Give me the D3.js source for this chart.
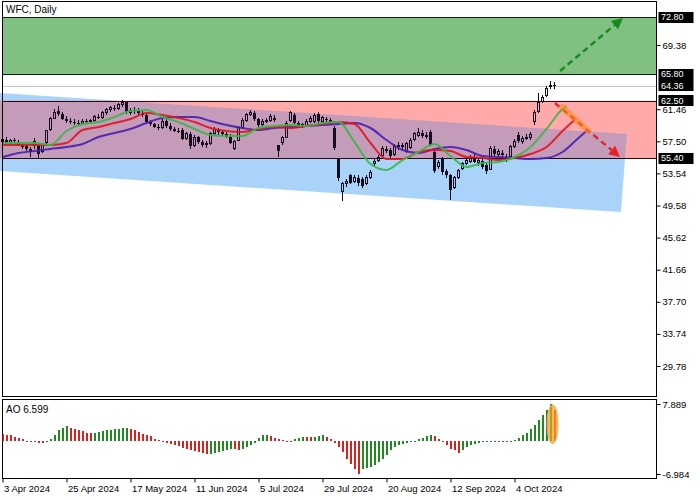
<!DOCTYPE html>
<html>
<head>
<meta charset="utf-8">
<script src="https://cdn.jsdelivr.net/npm/d3@7/dist/d3.min.js"></script>
<style>
html,body{margin:0;padding:0;background:#fff;}
svg{display:block;font-family:"Liberation Sans",Arial,sans-serif;}
</style>
</head>
<body>
<svg id="chart" width="700" height="500"></svg>
<script>
// ---------------- DATA ----------------
const opens  = [57.5,57.7,57.4,57.6,57.4,57.0,56.9,56.5,57.0,57.0,56.2,57.3,58.9,60.3,61.2,60.9,60.3,60.0,59.9,59.8,
                59.7,60.0,59.9,60.1,60.5,60.4,61.0,61.4,61.6,61.5,62.0,62.3,61.1,61.3,61.2,61.0,60.7,59.9,59.6,59.3,
                59.2,60.0,59.4,59.0,58.8,58.9,57.8,58.4,57.0,58.0,57.4,57.1,57.2,58.5,58.9,58.6,58.4,58.2,56.6,57.6,
                59.2,60.1,60.8,61.0,60.2,59.6,60.0,60.1,60.4,57.0,57.3,58.0,60.1,60.7,59.8,59.3,59.5,60.0,59.9,60.9,
                60.0,60.3,60.1,59.1,55.4,51.3,52.3,53.3,52.6,53.0,52.9,52.3,53.0,54.7,55.1,55.8,56.6,56.4,55.9,56.8,
                57.0,56.2,56.7,57.7,58.2,58.5,58.3,58.6,56.2,54.4,55.4,53.8,53.3,51.8,53.0,54.2,54.8,55.0,55.4,54.9,
                55.1,54.6,54.0,56.6,55.9,56.1,55.6,55.6,56.9,58.3,57.5,57.9,58.0,59.9,61.2,62.4,63.2,64.3,64.4];
const highs  = [57.9,58.0,57.8,57.9,57.7,57.3,57.2,56.8,57.9,57.3,57.2,58.9,60.5,61.5,61.8,61.1,60.6,60.4,60.2,60.1,
                60.2,60.3,60.3,60.8,60.9,61.2,61.6,61.9,62.0,62.2,62.6,62.4,61.6,61.7,61.6,61.2,60.9,60.1,59.8,59.6,
                60.2,60.4,59.7,59.3,59.1,59.2,58.7,58.6,58.3,58.2,57.7,57.5,58.7,59.3,59.1,58.9,58.7,58.4,57.7,59.4,
                60.4,61.0,61.4,61.2,60.4,60.2,60.4,60.9,60.7,57.1,58.1,60.0,61.2,61.0,60.0,59.8,60.3,60.6,61.0,61.1,
                60.6,60.5,60.4,59.4,55.5,52.5,52.9,53.5,53.3,53.3,53.1,53.3,53.9,55.3,55.8,56.9,56.9,56.7,57.2,57.4,
                57.3,57.4,57.9,58.7,59.1,58.9,58.6,58.9,56.5,55.2,55.6,54.1,53.5,53.2,54.1,55.0,55.4,55.8,55.9,55.4,
                55.3,54.9,56.9,56.9,56.6,56.4,55.9,57.0,57.8,58.6,58.1,58.4,58.6,61.3,63.5,63.2,64.3,64.9,64.8];
const lows   = [57.1,57.2,57.0,57.3,56.9,56.6,56.3,55.6,56.6,55.5,56.0,57.2,58.8,60.2,60.6,60.1,59.7,59.6,59.5,59.4,
                59.5,59.6,59.7,59.9,60.2,60.3,60.8,61.1,61.2,61.3,61.7,60.9,60.8,60.9,60.8,60.5,59.7,59.4,59.1,58.9,
                59.0,59.2,58.8,58.6,58.5,57.6,57.6,56.5,56.8,57.2,56.8,56.7,57.0,58.3,58.3,58.1,57.9,57.2,56.4,57.5,
                59.0,59.9,60.6,60.0,59.3,59.4,59.7,59.9,59.9,55.6,57.1,57.9,59.9,59.6,59.1,59.1,59.3,59.8,59.7,59.8,
                59.8,59.8,59.6,56.4,52.6,50.1,51.9,52.2,52.4,52.0,51.7,52.1,52.8,54.5,54.9,55.6,56.0,55.5,55.7,56.4,
                56.5,56.0,56.5,57.5,58.0,57.9,57.8,56.9,53.6,54.1,53.4,53.0,50.3,51.6,52.8,54.0,54.6,54.8,54.8,54.5,
                54.1,53.5,53.9,55.6,55.6,55.5,54.9,55.4,56.7,57.3,57.2,57.6,57.7,59.5,61.0,62.2,63.0,63.9,63.9];
const closes = [57.7,57.4,57.6,57.5,57.0,56.8,56.5,56.2,57.5,55.9,57.0,58.8,60.3,61.0,60.9,60.3,60.0,59.9,59.8,59.7,
                60.0,59.9,60.1,60.5,60.4,61.0,61.4,61.7,61.5,62.0,62.3,61.1,61.3,61.2,61.0,60.7,59.9,59.6,59.3,59.2,
                60.0,59.4,59.0,58.8,58.7,57.8,58.5,56.9,58.0,57.4,57.0,57.2,58.5,58.9,58.6,58.4,58.2,57.3,57.5,59.2,
                60.1,60.8,61.1,60.2,59.5,60.0,60.1,60.6,60.1,56.3,58.0,59.7,61.0,59.8,59.3,59.6,60.0,60.3,60.7,60.0,
                60.4,60.1,59.9,56.7,53.0,52.3,52.5,52.4,53.0,52.4,52.0,53.0,53.6,55.0,55.5,56.6,56.3,55.7,56.8,57.0,
                56.8,57.2,57.6,58.5,58.6,58.2,58.0,57.0,53.8,54.9,53.7,53.4,51.5,53.0,53.9,54.8,55.1,55.5,55.0,55.1,
                54.3,53.8,56.6,55.9,56.2,55.8,55.2,56.8,57.5,57.5,57.9,58.0,58.3,61.1,62.3,62.9,64.0,64.4,64.36];

const aoValues = [1.56,1.35,1.20,0.92,0.71,0.40,0.10,-0.15,-0.25,-0.40,-0.50,-0.15,0.50,1.20,2.27,2.83,3.12,2.83,2.62,2.27,
                  2.05,1.77,1.70,1.77,1.91,2.05,2.27,2.41,2.55,2.62,2.69,2.72,2.62,2.27,1.91,1.56,1.20,0.99,0.50,0.14,
                  -0.05,-0.42,-0.71,-0.92,-1.13,-1.42,-1.63,-1.84,-2.05,-2.34,-2.55,-2.83,-2.75,-2.62,-2.34,-2.05,-1.84,-1.63,-1.77,-1.92,
                  -1.63,-1.20,-0.78,-0.30,0.75,1.25,1.30,1.10,0.75,0.40,0.15,0.05,0.03,0.45,0.70,0.85,0.80,0.78,0.90,1.05,
                  1.20,0.92,0.50,-0.30,-1.20,-2.34,-3.75,-4.82,-5.88,-6.98,-6.02,-5.74,-5.52,-5.17,-4.46,-3.75,-2.90,-1.84,-1.27,-0.92,
                  -0.71,-0.42,-0.21,0.02,0.35,0.64,1.06,1.35,1.06,0.35,-0.21,-0.92,-1.63,-1.98,-2.48,-1.98,-1.27,-0.92,-0.57,-0.35,
                  -0.21,-0.10,-0.05,-0.10,-0.05,-0.08,0.02,0.05,0.28,0.64,1.20,1.77,2.62,3.47,4.39,5.59,6.52,7.889,6.599];

// Alligator lines at sample bars
const lipsBars  = [0,4,8,12,16,20,24,28,32,36,40,44,48,52,56,60,64,68,72,76,80,84,88,92,96,100,104,108,112,116,120,124,128,132,136,140,141];
const lipsVals  = [57.29,57.29,57.29,57.04,58.77,59.63,59.88,60.50,61.24,61.36,60.50,59.88,59.02,58.28,58.15,58.15,59.14,59.39,59.51,59.39,
                   59.76,59.88,57.41,54.70,53.96,55.19,56.18,57.17,55.69,54.33,54.82,54.95,55.56,56.80,59.02,61.48,61.86];
const teethBars = [0,4,8,12,16,20,24,28,32,36,40,44,48,52,56,60,64,68,72,76,80,84,88,92,96,100,104,108,112,116,120,124,128,132,136,140,143];
const teethVals = [57.04,57.04,57.04,57.04,57.29,58.89,59.26,59.76,60.25,60.99,60.74,60.37,59.88,59.14,58.77,58.65,59.02,59.26,59.14,59.39,
                   59.63,59.88,59.63,57.29,55.32,55.32,56.18,56.43,56.30,55.56,55.44,55.19,55.44,55.93,56.80,58.77,60.13];
const jawBars   = [0,4,8,12,16,20,24,28,32,36,40,44,48,52,56,60,64,68,72,76,80,84,88,92,96,100,104,108,112,116,120,124,128,132,136,140,144,146];
const jawVals   = [55.56,56.06,56.30,56.55,56.80,57.17,58.03,58.52,59.02,59.76,60.37,60.50,60.50,60.00,59.51,59.14,58.89,59.14,59.26,59.39,
                   59.51,59.63,59.76,59.14,57.66,56.43,56.06,56.55,56.80,56.43,55.69,55.56,55.44,55.32,55.44,56.18,57.91,58.77];

const priceTicks  = [73.34,69.38,61.46,57.50,53.54,49.58,45.62,41.66,37.70,33.74,29.78];
const levelPrices = [72.80,65.80,64.36,62.50,55.40];
const dateTickBars = [0,16,32,48,64,80,96,112,128];
const dateLabels  = ["3 Apr 2024","25 Apr 2024","17 May 2024","11 Jun 2024","5 Jul 2024","29 Jul 2024","20 Aug 2024","12 Sep 2024","4 Oct 2024"];
const aoTicks = [7.889,-6.984];
const greenZone = [72.80,65.80];
const pinkZone  = [62.50,55.40];
const lastPrice = 64.36;
const channelBars = [-1,156.1,154.6,-1];
const channelVals = [63.47,58.40,48.78,53.84];
const upArrowBars = [139.4,155.1],   upArrowVals = [66.17,72.71];
const downArrowBars = [138.1,154.4], downArrowVals = [62.22,55.56];
const highlightBars = [139.9,146.4], highlightVals = [61.73,58.77];
const aoMarkBar = 137.5, aoMarkVal = 3.6;

// ---------------- LAYOUT ----------------
const svg = d3.select('#chart');
const L = 2.5, R = 656.5, T = 1.5, B = 396.5, AT = 399.5, AB = 478.5;
const n = closes.length;
const x  = d3.scaleLinear().domain([0, 138]).range([2.5, 554.5]);
const y  = d3.scaleLinear().domain([29.78, 69.38]).range([366, 45]);
const ya = d3.scaleLinear().domain([-6.984, 7.889]).range([474, 404]);
const crisp = v => Math.round(v) + 0.5;

svg.append('rect').attr('width',700).attr('height',500).attr('fill','#fff');

const defs = svg.append('defs');
defs.append('clipPath').attr('id','mainClip').append('rect')
  .attr('x',0).attr('y',T).attr('width',R).attr('height',B-T);
defs.append('clipPath').attr('id','pinkClip').append('rect')
  .attr('x',0).attr('y',y(pinkZone[0])).attr('width',R).attr('height',y(pinkZone[1])-y(pinkZone[0]));
defs.append('clipPath').attr('id','aoClip').append('rect')
  .attr('x',L).attr('y',AT).attr('width',R-L).attr('height',AB-AT);
defs.append('clipPath').attr('id','topLabelClip').append('rect')
  .attr('x',657).attr('y',0).attr('width',43).attr('height',11.5);

const main = svg.append('g').attr('clip-path','url(#mainClip)');

// green target zone
main.append('rect').attr('x',L).attr('width',R-L+20)
  .attr('y',y(greenZone[0])).attr('height',y(greenZone[1])-y(greenZone[0]))
  .attr('fill','#80c080');
// last price line
main.append('line').attr('x1',L).attr('x2',R).attr('y1',crisp(y(lastPrice))).attr('y2',crisp(y(lastPrice)))
  .attr('stroke','#c4c4c4').attr('stroke-width',1);

// blue channel, pink zone, overlap
const chanPts = channelBars.map((b,i)=>[x(b), y(channelVals[i])]);
main.append('polygon').attr('points',chanPts.map(p=>p.join(',')).join(' ')).attr('fill','#a9d3f9');
main.append('rect').attr('x',0).attr('width',R+20)
  .attr('y',y(pinkZone[0])).attr('height',y(pinkZone[1])-y(pinkZone[0]))
  .attr('fill','#ffaaaa');
main.append('polygon').attr('points',chanPts.map(p=>p.join(',')).join(' '))
  .attr('clip-path','url(#pinkClip)').attr('fill','#c49cba');

// zone borders
main.selectAll('line.zb').data(greenZone.concat(pinkZone)).join('line').attr('class','zb')
  .attr('x1',L).attr('x2',R).attr('y1',d=>crisp(y(d))).attr('y2',d=>crisp(y(d)))
  .attr('stroke',(d,i)=> i<2 ? '#102010' : '#2a0a10').attr('stroke-width',1);

// candles
const cg = main.append('g').attr('shape-rendering','crispEdges');
const candleCol = '#140c1c';
d3.range(n).forEach(i=>{
  const o=opens[i], c=closes[i], h=highs[i], l=lows[i];
  const top = y(Math.max(o,c)), bot = y(Math.min(o,c));
  const cx = x(i);
  cg.append('line').attr('x1',cx).attr('x2',cx).attr('y1',y(h)).attr('y2',top).attr('stroke',candleCol);
  cg.append('line').attr('x1',cx).attr('x2',cx).attr('y1',bot).attr('y2',y(l)).attr('stroke',candleCol);
  if (c >= o) {
    cg.append('rect').attr('x',cx-1).attr('y',top).attr('width',2).attr('height',Math.max(1,bot-top))
      .attr('fill','none').attr('stroke',candleCol);
  } else {
    cg.append('rect').attr('x',cx-1.5).attr('y',top).attr('width',3).attr('height',Math.max(1,bot-top))
      .attr('fill',candleCol);
  }
});

// alligator lines
const lineGen = d3.line().x(d=>x(d[0])).y(d=>y(d[1])).curve(d3.curveMonotoneX);
[[jawBars,jawVals,'#4a1fae'],[teethBars,teethVals,'#e0141e'],[lipsBars,lipsVals,'#35b846']].forEach(([bs,vs,col])=>{
  main.append('path').datum(bs.map((b,i)=>[b,vs[i]])).attr('d',lineGen)
    .attr('fill','none').attr('stroke',col).attr('stroke-width',2).attr('stroke-opacity',0.9)
    .attr('stroke-linejoin','round');
});

// arrows
function arrow(bs, vs, col){
  const x1=x(bs[0]), y1=y(vs[0]), x2=x(bs[1]), y2=y(vs[1]);
  const ang = Math.atan2(y2-y1, x2-x1);
  const len = 11, hw = 5.5;
  const bx = x2 - len*Math.cos(ang), by = y2 - len*Math.sin(ang);
  main.append('line').attr('x1',x1).attr('y1',y1).attr('x2',bx).attr('y2',by)
    .attr('stroke',col).attr('stroke-width',2.4).attr('stroke-dasharray','6,4');
  const p1=[bx+hw*Math.sin(ang), by-hw*Math.cos(ang)], p2=[bx-hw*Math.sin(ang), by+hw*Math.cos(ang)];
  main.append('polygon').attr('points',[[x2,y2],p1,p2].map(p=>p.join(',')).join(' ')).attr('fill',col);
}
arrow(upArrowBars, upArrowVals, '#148a1e');
arrow(downArrowBars, downArrowVals, '#e8202a');
main.append('line')
  .attr('x1',x(highlightBars[0])).attr('y1',y(highlightVals[0]))
  .attr('x2',x(highlightBars[1])).attr('y2',y(highlightVals[1]))
  .attr('stroke','#ff8a1a').attr('stroke-opacity',0.6).attr('stroke-width',6).attr('stroke-linecap','round');

// frames
svg.append('rect').attr('x',L).attr('y',T).attr('width',R-L).attr('height',B-T)
  .attr('fill','none').attr('stroke','#000');
svg.append('rect').attr('x',L).attr('y',AT).attr('width',R-L).attr('height',AB-AT)
  .attr('fill','none').attr('stroke','#000');

// title
svg.append('text').attr('x',6).attr('y',12.5).attr('font-size',10).attr('fill','#000').text('WFC, Daily');

// price axis
const pAxis = svg.append('g').attr('transform',`translate(${R},0)`)
  .call(d3.axisRight(y).tickValues(priceTicks).tickSize(4).tickPadding(2).tickFormat(d=>d.toFixed(2)));
pAxis.select('.domain').remove();
pAxis.selectAll('text').attr('font-size',9.5).attr('fill','#000').attr('font-family','"Liberation Sans",Arial,sans-serif');
pAxis.selectAll('line').attr('stroke','#000');
// the top label is mostly hidden behind the 72.80 box in the reference: show only its visible top part
pAxis.selectAll('.tick').filter(d=>d===73.34).attr('clip-path','url(#topLabelClip)');

// level boxes
const lv = svg.append('g');
levelPrices.forEach(v=>{
  const yy = y(v);
  lv.append('rect').attr('x',658.5).attr('y',Math.round(yy-5.5)).attr('width',35).attr('height',11).attr('fill','#000');
  lv.append('text').attr('x',661).attr('y',yy).attr('dy','0.35em').attr('font-size',9).attr('fill','#fff').text(v.toFixed(2));
});

// AO panel
const ao = svg.append('g').attr('clip-path','url(#aoClip)').attr('shape-rendering','crispEdges');
ao.selectAll('rect.b').data(aoValues).join('rect').attr('class','b')
  .attr('x',(d,i)=>x(i)-1).attr('width',2)
  .attr('y',d=>Math.min(ya(d),ya(0))).attr('height',d=>Math.max(1,Math.abs(ya(d)-ya(0))))
  .attr('fill',(d,i)=> (i>0 && d>aoValues[i-1]) ? '#1f8a1f' : '#dc2020');
svg.append('ellipse').attr('cx',x(aoMarkBar)).attr('cy',ya(aoMarkVal)).attr('rx',5.5).attr('ry',19.5)
  .attr('fill','#f5a02a').attr('fill-opacity',0.75).attr('stroke','#f3b060').attr('stroke-width',1);
svg.append('text').attr('x',6).attr('y',413).attr('font-size',10).attr('fill','#000')
  .text('AO ' + aoValues[aoValues.length-1].toFixed(3));

const aAxis = svg.append('g').attr('transform',`translate(${R},0)`)
  .call(d3.axisRight(ya).tickValues(aoTicks).tickSize(4).tickPadding(2).tickFormat(d=>d.toFixed(3)));
aAxis.select('.domain').remove();
aAxis.selectAll('text').attr('font-size',9.5).attr('fill','#000').attr('font-family','"Liberation Sans",Arial,sans-serif');
aAxis.selectAll('line').attr('stroke','#000');

// date axis
const dAxis = svg.append('g').attr('transform',`translate(0,${AB})`)
  .call(d3.axisBottom(x).tickValues(dateTickBars).tickSize(4).tickPadding(3).tickFormat((d,i)=>dateLabels[i]));
dAxis.select('.domain').remove();
dAxis.selectAll('text').attr('text-anchor','start').attr('x',1).attr('font-size',9.5).attr('fill','#000')
  .attr('font-family','"Liberation Sans",Arial,sans-serif');
dAxis.selectAll('line').attr('stroke','#000');
</script>
</body>
</html>
